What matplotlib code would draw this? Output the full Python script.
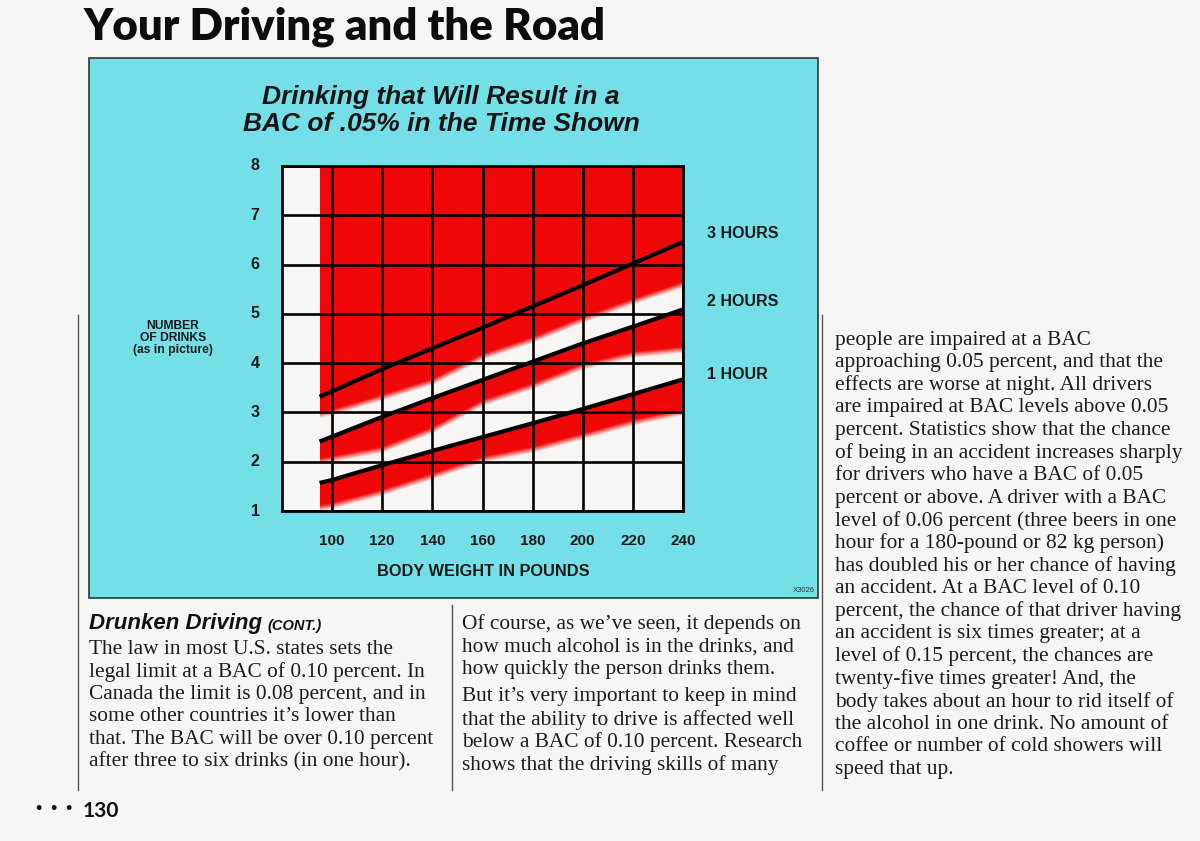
import numpy as np
import matplotlib
matplotlib.use("Agg")
import matplotlib.pyplot as plt
from matplotlib.patches import Rectangle
from matplotlib.lines import Line2D

# ---------------- data ----------------
weights = [95, 100, 120, 140, 160, 180, 200, 220, 240]
hours_3 = [3.32, 3.43, 3.88, 4.30, 4.72, 5.15, 5.58, 6.02, 6.46]
hours_2 = [2.41, 2.51, 2.91, 3.29, 3.66, 4.03, 4.40, 4.74, 5.09]
hours_1 = [1.57, 1.63, 1.93, 2.22, 2.50, 2.78, 3.07, 3.37, 3.67]
# lower (fuzzy) edge of the red band under each line
edge_3 = [2.95, 3.00, 3.30, 3.62, 4.13, 4.47, 4.88, 5.25, 5.59]
edge_2 = [2.00, 2.05, 2.24, 2.64, 3.19, 3.53, 3.93, 4.17, 4.27]
edge_1 = [1.05, 1.10, 1.37, 1.70, 2.04, 2.24, 2.51, 2.79, 3.00]
line_labels = ["3 HOURS", "2 HOURS", "1 HOUR"]
x_ticks = [100, 120, 140, 160, 180, 200, 220, 240]
y_ticks = [1, 2, 3, 4, 5, 6, 7, 8]

page_title = "Your Driving and the Road"
chart_title = ["Drinking that Will Result in a", "BAC of .05% in the Time Shown"]
col1 = ["The law in most U.S. states sets the",
        "legal limit at a BAC of 0.10 percent. In",
        "Canada the limit is 0.08 percent, and in",
        "some other countries it\u2019s lower than",
        "that. The BAC will be over 0.10 percent",
        "after three to six drinks (in one hour)."]
col2a = ["Of course, as we\u2019ve seen, it depends on",
         "how much alcohol is in the drinks, and",
         "how quickly the person drinks them."]
col2b = ["But it\u2019s very important to keep in mind",
         "that the ability to drive is affected well",
         "below a BAC of 0.10 percent. Research",
         "shows that the driving skills of many"]
col3 = ["people are impaired at a BAC",
        "approaching 0.05 percent, and that the",
        "effects are worse at night. All drivers",
        "are impaired at BAC levels above 0.05",
        "percent. Statistics show that the chance",
        "of being in an accident increases sharply",
        "for drivers who have a BAC of 0.05",
        "percent or above. A driver with a BAC",
        "level of 0.06 percent (three beers in one",
        "hour for a 180-pound or 82 kg person)",
        "has doubled his or her chance of having",
        "an accident. At a BAC level of 0.10",
        "percent, the chance of that driver having",
        "an accident is six times greater; at a",
        "level of 0.15 percent, the chances are",
        "twenty-five times greater! And, the",
        "body takes about an hour to rid itself of",
        "the alcohol in one drink. No amount of",
        "coffee or number of cold showers will",
        "speed that up."]

# ---------------- figure ----------------
W, H = 1200, 841
fig = plt.figure(figsize=(W / 100, H / 100), dpi=100)
fig.patch.set_facecolor("#F6F6F4")

def fx(x):
    return x / W

def fy(y):
    return 1 - y / H

CYAN = "#74DFE6"
SANS = "Liberation Sans"
SERIF = "Liberation Serif"
INK = "#1a1a1a"

# cyan panel
panel = Rectangle((fx(89), fy(598)), fx(818) - fx(89), fy(58) - fy(598),
                  transform=fig.transFigure, facecolor=CYAN,
                  edgecolor="#2a3a3c", lw=1.2, zorder=-5)
fig.patches.append(panel)

# chart axes
L, R, T, B = 282, 683, 166, 511
ax = fig.add_axes([fx(L), fy(B), fx(R) - fx(L), fy(T) - fy(B)])
ax.set_zorder(2)
ax.set_facecolor("#F8F6F4")
ax.set_xlim(80, 240)
ax.set_ylim(1, 8)

# red bands with fuzzy lower edges
xs = np.linspace(95, 240, 700)
ys = np.linspace(1, 8, 800)
X, Y = np.meshgrid(xs, ys)
fuzz = 0.13

def soft(lower):
    lo = np.interp(X, weights, lower)
    return np.clip((Y - lo) / fuzz + 0.5, 0, 1)

l2 = np.interp(X, weights, hours_2)
l1 = np.interp(X, weights, hours_1)
a3 = soft(edge_3)
a2 = soft(edge_2) * (Y <= l2)
a1 = soft(edge_1) * (Y <= l1)
alpha = np.maximum(np.maximum(a3, a2), a1)
rgba = np.zeros(X.shape + (4,))
rgba[..., 0] = 240 / 255
rgba[..., 1] = 8 / 255
rgba[..., 2] = 8 / 255
rgba[..., 3] = alpha
ax.imshow(rgba, extent=[95, 240, 1, 8], origin="lower", aspect="auto",
          interpolation="bilinear", zorder=1)

# grid
for xv in x_ticks:
    ax.axvline(xv, color="black", lw=1.9, zorder=2)
for yv in y_ticks:
    ax.axhline(yv, color="black", lw=1.9, zorder=2)

for series in (hours_3, hours_2, hours_1):
    ax.plot(weights, series, color="black", lw=3.0, solid_capstyle="butt", zorder=3)

for s in ax.spines.values():
    s.set_linewidth(2.0)
    s.set_color("black")
    s.set_zorder(4)

ax.set_xticks(x_ticks)
ax.set_yticks(y_ticks)
ax.tick_params(length=0, pad=0)
ax.set_xticklabels([])
ax.set_yticklabels([])
for xv in x_ticks:
    ax.annotate(str(xv), xy=(xv, 1), xycoords="data", xytext=(0, -30),
                textcoords="offset pixels", ha="center", va="center",
                fontsize=11, fontweight="bold", family=SANS, color=INK,
                annotation_clip=False)
for yv in y_ticks:
    ax.annotate(str(yv), xy=(80, yv), xycoords="data", xytext=(-27, 0),
                textcoords="offset pixels", ha="center", va="center",
                fontsize=11.5, fontweight="bold", family=SANS, color=INK,
                annotation_clip=False)

# line labels
for lab, yy in zip(line_labels, [234, 302, 375]):
    fig.text(fx(707), fy(yy), lab, ha="left", va="center", fontsize=11.5,
             fontweight="bold", family=SANS, color=INK)

fig.text(fx(173), fy(338), "NUMBER\nOF DRINKS\n(as in picture)", ha="center",
         va="center", fontsize=8.7, fontweight="bold", family=SANS,
         color=INK, linespacing=0.95)
fig.text(fx(483), fy(572), "BODY WEIGHT IN POUNDS", ha="center", va="center",
         fontsize=11.8, fontweight="bold", family=SANS, color=INK)
fig.text(fx(815), fy(590), "X3026", ha="right", va="center", fontsize=5.5,
         family=SANS, color="#333333")

for i, t in enumerate(chart_title):
    fig.text(fx(441), fy(97 + 27 * i), t, ha="center", va="center",
             fontsize=19, fontweight="bold", style="italic", family=SANS,
             color="#141414")

# page title
fig.text(fx(84), fy(27), page_title, ha="left", va="center", fontsize=31.5,
         fontweight="heavy", family="Lato", color="#0c0c0c")

# heading
fig.text(fx(89), fy(623), "Drunken Driving", ha="left", va="center",
         fontsize=16, fontweight="bold", style="italic", family=SANS,
         color="#111111")
fig.text(fx(267), fy(626), "(CONT.)", ha="left", va="center",
         fontsize=10.5, fontweight="bold", style="italic", family=SANS,
         color="#111111")

# body text
LS = 22.6
def column(lines, x0, y0):
    for i, t in enumerate(lines):
        fig.text(fx(x0), fy(y0 + i * LS), t, ha="left", va="center",
                 fontsize=15.4, family=SERIF, color="#1c1c1c")

column(col1, 89, 649)
column(col2a, 462, 624)
column(col2b, 462, 697)
column(col3, 835, 340)

# vertical rules
for x0, y0, y1 in [(78, 315, 790), (452, 605, 790), (822, 315, 790)]:
    fig.add_artist(Line2D([fx(x0), fx(x0)], [fy(y0), fy(y1)],
                          transform=fig.transFigure, color="#555555", lw=1.0))

# page number
for xd in (38, 53, 68):
    fig.text(fx(xd), fy(809), "\u2022", ha="center", va="center",
             fontsize=13, family=SANS, color="#111111")
fig.text(fx(83), fy(811), "130", ha="left", va="center", fontsize=15,
         fontweight="bold", family="Lato", color="#111111")

fig.savefig("out.png", dpi=100, facecolor=fig.get_facecolor())
